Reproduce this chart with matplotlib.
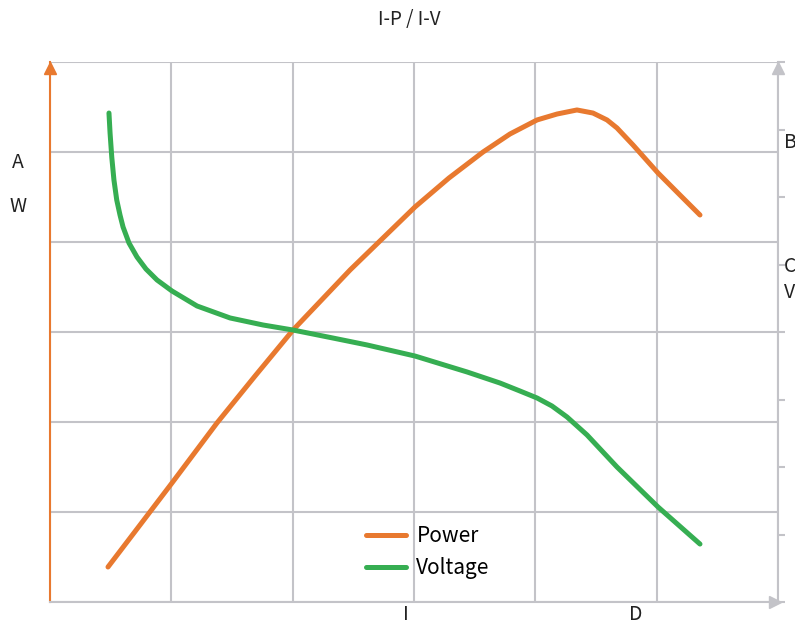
import matplotlib.pyplot as plt

plt.rcParams['font.family'] = ['Noto Sans CJK SC', 'DejaVu Sans']

# current (grid units) and values
power_x = [0.478, 0.742, 1.005, 1.376, 1.690, 2.003, 2.473, 3.008, 3.288, 3.569, 3.791,
           4.014, 4.179, 4.343, 4.475, 4.591, 4.673, 4.805, 5.011, 5.192, 5.357]
power_y = [0.389, 0.856, 1.322, 1.989, 2.511, 3.022, 3.689, 4.389, 4.711, 5.0, 5.2,
           5.356, 5.422, 5.467, 5.433, 5.356, 5.267, 5.078, 4.767, 4.522, 4.3]

volt_x = [0.486, 0.495, 0.509, 0.527, 0.550, 0.577, 0.602, 0.651, 0.717, 0.791, 0.882,
          1.005, 1.212, 1.484, 1.755, 2.003, 2.332, 2.613, 3.008, 3.437, 3.709, 3.874,
          4.014, 4.137, 4.261, 4.426, 4.673, 5.011, 5.357]
volt_y = [5.433, 5.211, 4.944, 4.689, 4.467, 4.3, 4.167, 3.989, 3.833, 3.7, 3.578,
          3.456, 3.289, 3.156, 3.078, 3.022, 2.933, 2.856, 2.733, 2.556, 2.433, 2.344,
          2.267, 2.178, 2.056, 1.856, 1.5, 1.056, 0.644]

orange = '#E8792F'
green = '#36AE52'
gray = '#C3C3C8'
txt = '#222222'

fig = plt.figure(figsize=(7.95, 6.24), dpi=100)
ax = fig.add_axes([50 / 795, 22 / 624, 728 / 795, 540 / 624])

# right axis ticks (8 divisions)
ax2 = ax.twinx()
ax2.set_ylim(0, 8)
ax2.set_yticks(range(9))
ax2.tick_params(axis='y', length=5, width=1.5, color=gray, labelright=False)
for s in ax2.spines.values():
    s.set_visible(False)

ax.set_xlim(0, 6)
ax.set_ylim(0, 6)
ax.set_xticks(range(7))
ax.set_yticks(range(7))
ax.grid(True, color=gray, linewidth=1.5)
ax.tick_params(left=False, right=False, bottom=False, top=False,
               labelleft=False, labelbottom=False)
for s in ['top', 'right', 'bottom']:
    ax.spines[s].set_color(gray)
    ax.spines[s].set_linewidth(1.5)
ax.spines['top'].set_visible(False)
ax.spines['left'].set_color(orange)
ax.spines['left'].set_linewidth(1.5)
ax.set_zorder(ax2.get_zorder() + 1)
ax.patch.set_visible(False)

ax.plot(power_x, power_y, color=orange, lw=3.6, solid_capstyle='round',
        solid_joinstyle='round', label='Power')
ax.plot(volt_x, volt_y, color=green, lw=3.6, solid_capstyle='round',
        solid_joinstyle='round', label='Voltage')

# arrows
ax.plot(0, 1 - 5.5 / 540, '^', color=orange, ms=8, transform=ax.transAxes, clip_on=False)
ax.plot(1, 1 - 5.5 / 540, '^', color=gray, ms=8, transform=ax.transAxes, clip_on=False)
ax.plot(1 - 3.5 / 728, 0, '>', color=gray, ms=8, transform=ax.transAxes, clip_on=False)

leg = ax.legend(loc='upper left', bbox_to_anchor=(356 / 795, 1 - 515 / 624),
                bbox_transform=fig.transFigure, frameon=False, borderpad=0,
                fontsize=15, handlelength=1.92, handletextpad=0.48, labelspacing=0.45)
for h in leg.get_lines():
    h.set_linewidth(3.6)

fig.text(409 / 795, 1 - 20 / 624, 'I-P / I-V', ha='center', va='center', fontsize=13.5, color=txt)
fig.text(18 / 795, 1 - 162 / 624, 'A', ha='center', va='center', fontsize=14, color=txt)
fig.text(18 / 795, 1 - 207 / 624, 'W', ha='center', va='center', fontsize=14, color=txt)
fig.text(784 / 795, 1 - 143 / 624, 'B', ha='left', va='center', fontsize=14, color=txt)
fig.text(784 / 795, 1 - 267 / 624, 'C', ha='left', va='center', fontsize=14, color=txt)
fig.text(784 / 795, 1 - 293 / 624, 'V', ha='left', va='center', fontsize=14, color=txt)
fig.text(406 / 795, 1 - 615 / 624, 'I', ha='center', va='center', fontsize=14, color=txt)
fig.text(636 / 795, 1 - 615 / 624, 'D', ha='center', va='center', fontsize=14, color=txt)

fig.savefig('out.png', dpi=100)
